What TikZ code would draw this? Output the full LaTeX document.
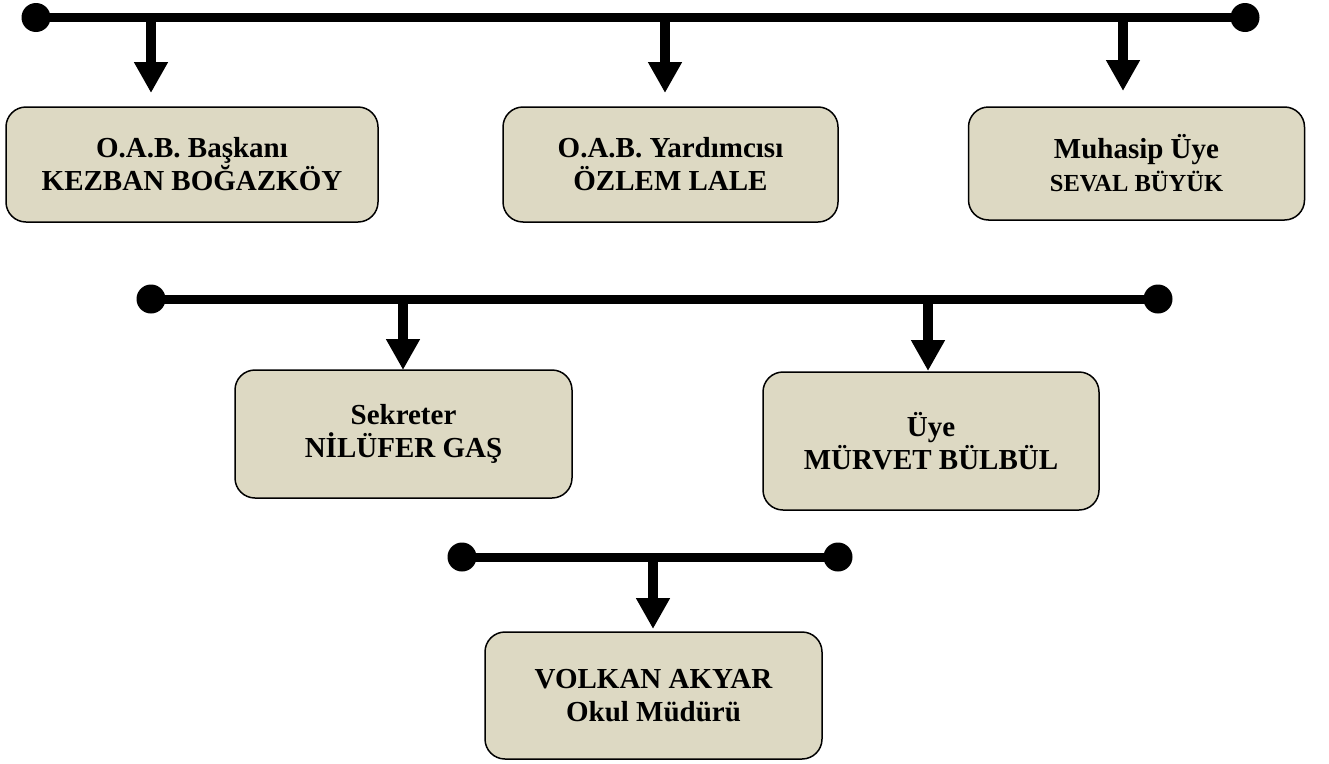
\documentclass[tikz,border=0pt]{standalone}
\usepackage{fontspec}
\setmainfont{Liberation Serif}
\usetikzlibrary{arrows.meta}
\definecolor{boxfill}{HTML}{DDD9C3}
\tikzset{
  orgbox/.style={draw=black, line width=1.5pt, fill=boxfill, rounded corners=20pt,
    align=center, inner sep=0pt, outer sep=0pt,
    font=\fontsize{29}{33}\selectfont\bfseries},
  busbar/.style={line width=9pt},
  stem/.style={line width=10pt, -{Triangle[width=32pt,length=31pt]}},
  enddot/.style={fill=black}
}
\begin{document}
\begin{tikzpicture}[x=1pt,y=-1pt]
\useasboundingbox (0,0) rectangle (1329,763);
% boxes
\node[orgbox, minimum width=372pt, minimum height=115pt] (b1) at (192,164.5) {O.A.B. Başkanı\\KEZBAN BOĞAZKÖY};
\node[orgbox, minimum width=335pt, minimum height=115pt] (b2) at (670.5,164.5) {O.A.B. Yardımcısı\\ÖZLEM LALE};
\node[orgbox, minimum width=336pt, minimum height=113pt] (b3) at (1136.5,163.5) {Muhasip Üye\\{\fontsize{24.5}{29}\selectfont SEVAL BÜYÜK}};
\node[orgbox, minimum width=337pt, minimum height=128pt] (b4) at (403.5,434) {Sekreter\\NİLÜFER GAŞ};
\node[orgbox, minimum width=336pt, minimum height=138pt] (b5) at (931,441) {Üye\\MÜRVET BÜLBÜL};
\node[orgbox, minimum width=337pt, minimum height=127pt] (b6) at (653.5,695.5) {VOLKAN AKYAR\\Okul Müdürü};
% bus 1
\coordinate (l1) at (36,17.5);
\coordinate (r1) at (1245,17.5);
\coordinate (j1a) at (151,17.5);
\coordinate (j1b) at (665,17.5);
\coordinate (j1c) at (1123,17.5);
\draw[busbar] (l1) -- (r1);
\fill[enddot] (l1) circle (14.5pt);
\fill[enddot] (r1) circle (14.5pt);
\draw[stem, shorten >=14pt] (j1a) -- (j1a |- b1.north);
\draw[stem, shorten >=14pt] (j1b) -- (j1b |- b2.north);
\draw[stem, shorten >=16pt] (j1c) -- (j1c |- b3.north);
% bus 2
\coordinate (l2) at (151,299);
\coordinate (r2) at (1158,299);
\coordinate (j2a) at (403,299);
\coordinate (j2b) at (928,299);
\draw[busbar] (l2) -- (r2);
\fill[enddot] (l2) circle (14.5pt);
\fill[enddot] (r2) circle (14.5pt);
\draw[stem] (j2a) -- (j2a |- b4.north);
\draw[stem, shorten >=1pt] (j2b) -- (j2b |- b5.north);
% bus 3
\coordinate (l3) at (462,557);
\coordinate (r3) at (838,557);
\coordinate (j3) at (653,557);
\draw[busbar] (l3) -- (r3);
\fill[enddot] (l3) circle (14.5pt);
\fill[enddot] (r3) circle (14.5pt);
\draw[stem, shorten >=3pt] (j3) -- (j3 |- b6.north);
\end{tikzpicture}
\end{document}
